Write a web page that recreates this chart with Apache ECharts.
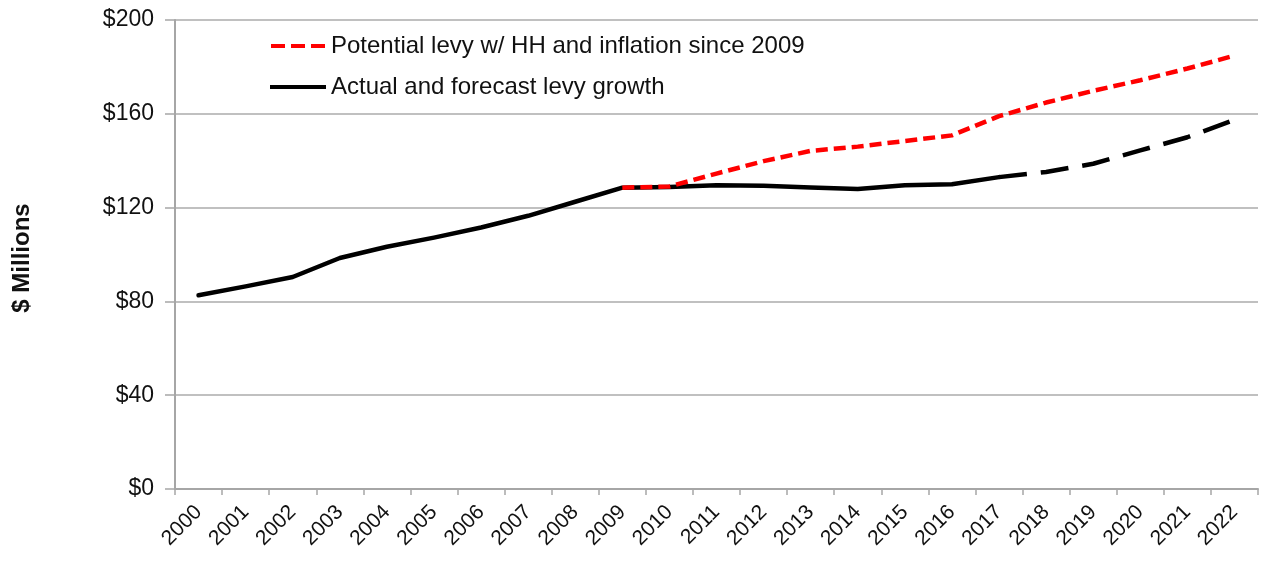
<!DOCTYPE html>
<html>
<head>
<meta charset="utf-8">
<script src="https://cdn.jsdelivr.net/npm/echarts@6/dist/echarts.min.js"></script>
<style>
  html, body { margin: 0; padding: 0; background: #fff; }
  #chart { width: 1262px; height: 563px; }
</style>
</head>
<body>
<div id="chart"></div>
<script>
// Years on the category axis
const years = ['2000','2001','2002','2003','2004','2005','2006','2007','2008','2009','2010',
  '2011','2012','2013','2014','2015','2016','2017','2018','2019','2020','2021','2022'];

// Actual levy ($ millions), 2000-2017
const actualLevy = [82.6, 86.4, 90.4, 98.5, 103.3, 107.2, 111.5, 116.5, 122.5, 128.5, 128.8,
  129.5, 129.3, 128.6, 127.9, 129.5, 130.0, 133.0, null, null, null, null, null];

// Forecast levy ($ millions), 2017-2022
const forecastLevy = [null, null, null, null, null, null, null, null, null, null, null,
  null, null, null, null, null, null, 133.0, 135.2, 138.7, 144.4, 150.0, 157.4];

// Potential levy with household growth and inflation since 2009 ($ millions)
const potentialLevy = [null, null, null, null, null, null, null, null, null, 128.5, 129.0,
  134.5, 139.8, 144.2, 146.0, 148.4, 150.8, 159.0, 164.8, 169.8, 174.3, 179.3, 184.8];

// Value axis ticks
const yTicks = [0, 40, 80, 120, 160, 200];

const seriesNames = ['Potential levy w/ HH and inflation since 2009', 'Actual and forecast levy growth'];

const chart = echarts.init(document.getElementById('chart'), null, { renderer: 'canvas' });

const font = 'Liberation Sans, Arial, sans-serif';

// legend keys: three short red dashes, one solid black bar
const dashedKey = 'path://M0,0H14V4H0Z M20,0H34V4H20Z M40,0H54V4H40Z';
const solidKey = 'path://M0,0H58V4H0Z';

chart.setOption({
  backgroundColor: '#ffffff',
  animation: false,
  textStyle: { fontFamily: font },
  grid: { left: 175, right: 4, top: 20, bottom: 74, containLabel: false },
  legend: {
    data: [
      { name: seriesNames[0], icon: dashedKey },
      { name: seriesNames[1], icon: solidKey }
    ],
    orient: 'vertical',
    left: 265,
    top: 29,
    itemWidth: 56,
    itemHeight: 4,
    itemGap: 17,
    textStyle: { fontSize: 24, color: '#111', fontFamily: font, padding: [0, 0, 0, 0] }
  },
  xAxis: {
    type: 'category',
    data: years,
    boundaryGap: true,
    axisLine: { lineStyle: { color: '#a6a6a6', width: 2 } },
    axisTick: { show: true, length: 6, alignWithLabel: false, lineStyle: { color: '#a6a6a6', width: 1.5 } },
    axisLabel: { rotate: 45, fontSize: 21, color: '#111', margin: 20, interval: 0, fontFamily: font }
  },
  yAxis: {
    type: 'value',
    min: yTicks[0],
    max: yTicks[yTicks.length - 1],
    interval: yTicks[1] - yTicks[0],
    name: '$ Millions',
    nameLocation: 'middle',
    nameRotate: 90,
    nameGap: 141,
    nameTextStyle: { fontSize: 24, fontWeight: 'bold', color: '#111', fontFamily: font, padding: [0, 7, 0, 0] },
    axisLine: { show: true, lineStyle: { color: '#a6a6a6', width: 2 } },
    axisTick: { show: true, length: 10, lineStyle: { color: '#a6a6a6', width: 1.5 } },
    axisLabel: { fontSize: 23, color: '#111', margin: 21, formatter: v => '$' + v, fontFamily: font },
    splitLine: { show: true, lineStyle: { color: '#c0c0c0', width: 2 } }
  },
  series: [
    {
      name: seriesNames[1],
      type: 'line',
      data: actualLevy,
      symbol: 'none',
      z: 2,
      lineStyle: { color: '#000', width: 4.5, cap: 'round', join: 'round' },
      itemStyle: { color: '#000' }
    },
    {
      name: 'forecast',
      type: 'line',
      data: forecastLevy,
      symbol: 'none',
      z: 2,
      lineStyle: { color: '#000', width: 4.5, type: [28, 14], join: 'round' },
      itemStyle: { color: '#000' }
    },
    {
      name: seriesNames[0],
      type: 'line',
      data: potentialLevy,
      symbol: 'none',
      z: 3,
      lineStyle: { color: '#ff0000', width: 4.5, type: [12, 6], join: 'round' },
      itemStyle: { color: '#ff0000' }
    }
  ]
});
</script>
</body>
</html>
